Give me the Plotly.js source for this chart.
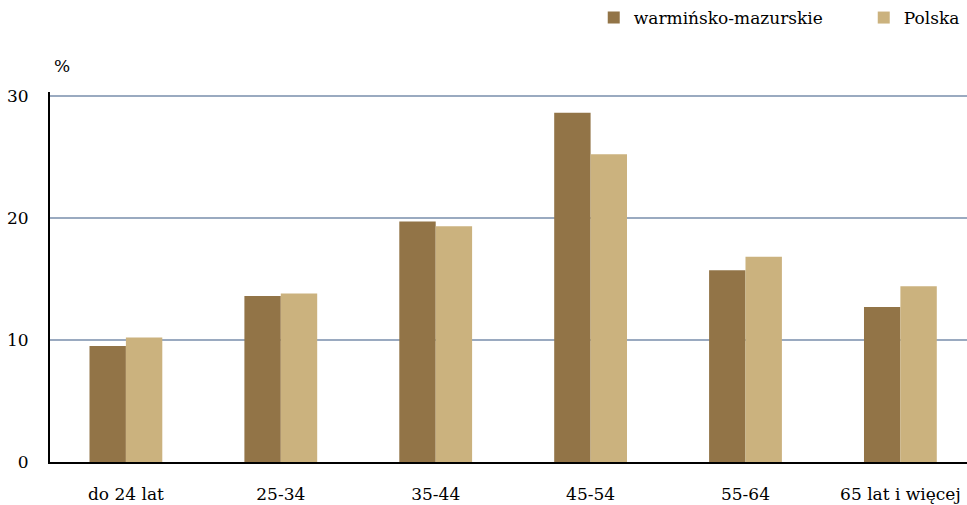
<!DOCTYPE html>
<html>
<head>
<meta charset="utf-8">
<script src="https://cdn.plot.ly/plotly-3.0.1.min.js"></script>
<style>html,body{margin:0;padding:0;background:#fff;}#chart{width:967px;height:505px;}</style>
</head>
<body>
<div id="chart"></div>
<script>
const categories = ["do 24 lat", "25-34", "35-44", "45-54", "55-64", "65 lat i więcej"];
const warminskoMazurskie = [9.5, 13.6, 19.7, 28.6, 15.7, 12.7];
const polska = [10.2, 13.8, 19.3, 25.2, 16.8, 14.4];
const seriesNames = ["warmińsko-mazurskie", "Polska"];
const yTicks = [0, 10, 20, 30];

const font = "DejaVu Serif";

const data = [
  {type: "bar", name: seriesNames[0], x: categories, y: warminskoMazurskie,
   marker: {color: "#927447"}, hoverinfo: "x+y"},
  {type: "bar", name: seriesNames[1], x: categories, y: polska,
   marker: {color: "#CBB27E"}, hoverinfo: "x+y"}
];

const layout = {
  width: 967, height: 505,
  margin: {l: 50, r: 0, t: 92, b: 43},
  paper_bgcolor: "#ffffff", plot_bgcolor: "#ffffff",
  font: {family: font, size: 17, color: "#000"},
  barmode: "group", bargap: 0.53, bargroupgap: 0,
  showlegend: true,
  legend: {orientation: "h", xref: "container", yref: "container",
           x: 0.614, y: 1.0, xanchor: "left", yanchor: "top",
           font: {family: font, size: 17, color: "#000"},
           traceorder: "normal", entrywidth: 225, bgcolor: "rgba(0,0,0,0)"},
  xaxis: {type: "category", range: [-0.49, 5.43], showgrid: false,
          showline: true, linecolor: "#000", linewidth: 2,
          ticks: "", ticklabelstandoff: 16, tickfont: {family: font, size: 17, color: "#000"},
          zeroline: false, fixedrange: true},
  yaxis: {range: [0, 30.3], tickvals: yTicks, ticktext: yTicks.map(String),
          showgrid: true, gridcolor: "#9AAAC0", gridwidth: 2,
          showline: true, linecolor: "#000", linewidth: 2,
          ticks: "", ticklabelstandoff: 16, tickfont: {family: font, size: 17, color: "#000"},
          zeroline: false, fixedrange: true},
  annotations: [{text: "%", xref: "paper", yref: "paper", x: 0.0, y: 1.0,
                 xanchor: "left", yanchor: "bottom", yshift: 14, xshift: 2, showarrow: false,
                 font: {family: font, size: 17, color: "#000"}}]
};

Plotly.newPlot("chart", data, layout, {displayModeBar: false, staticPlot: true});
</script>
</body>
</html>
